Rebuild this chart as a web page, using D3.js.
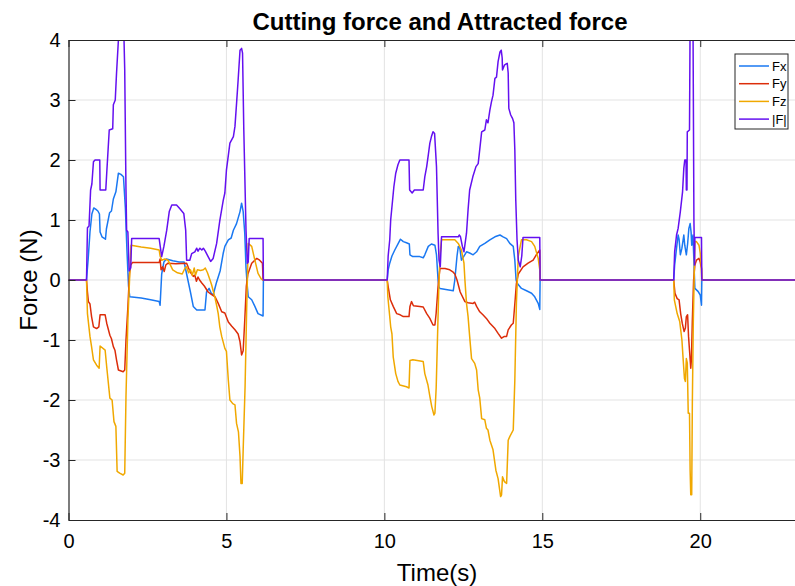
<!DOCTYPE html>
<html>
<head>
<meta charset="utf-8">
<script src="https://cdn.jsdelivr.net/npm/d3@7"></script>
<style>
  body { margin: 0; background: #fff; }
  svg { display: block; font-family: "Liberation Sans", Arial, sans-serif; }
</style>
</head>
<body>
<svg id="chart" width="795" height="586"></svg>
<script>
// series as [time (s), force (N)] pairs
var fxData = [
  [0,0],[0.57,0],
  [0.62,0.33],[0.68,0.8],[0.74,1.1],[0.8,1.2],[0.86,1.18],[0.93,1.15],[0.98,1.1],[1.0,0.8],[1.06,0.72],[1.17,0.68],[1.2,0.85],[1.3,1.12],[1.36,1.15],[1.42,1.35],[1.5,1.47],[1.58,1.78],[1.66,1.76],[1.74,1.72],[1.8,1.2],[1.85,0.5],[1.9,-0.1],[1.94,-0.28],[2.3,-0.3],[2.6,-0.33],[2.87,-0.36],[2.9,-0.42],[2.95,0.1],[3.02,0.3],[3.1,0.35],[3.3,0.32],[3.5,0.3],[3.66,0.3],[3.72,0.15],[3.8,-0.05],[3.86,-0.2],[3.95,-0.44],[4.06,-0.5],[4.32,-0.5],[4.37,-0.2],[4.45,-0.14],[4.52,-0.22],[4.58,-0.25],[4.68,-0.05],[4.8,0.15],[4.9,0.45],[4.95,0.56],[5.06,0.67],[5.15,0.7],[5.22,0.83],[5.32,0.94],[5.43,1.14],[5.48,1.28],[5.53,1.14],[5.58,0.78],[5.62,0.2],[5.66,-0.1],[5.69,-0.28],[5.8,-0.33],[5.9,-0.44],[6.0,-0.56],[6.16,-0.6],[6.17,0],
  [10.09,0],[10.12,0.17],[10.17,0.28],[10.24,0.4],[10.33,0.5],[10.44,0.61],[10.51,0.68],[10.6,0.64],[10.7,0.62],[10.79,0.6],[10.81,0.42],[10.9,0.39],[11.12,0.39],[11.23,0.37],[11.28,0.42],[11.39,0.56],[11.49,0.6],[11.6,0.58],[11.65,0.42],[11.7,0.0],[11.73,-0.12],[11.76,-0.14],[12.18,-0.18],[12.23,0.0],[12.3,0.4],[12.34,0.56],[12.39,0.53],[12.44,0.33],[12.5,0.38],[12.6,0.47],[12.7,0.45],[12.81,0.42],[12.92,0.47],[13.02,0.56],[13.18,0.61],[13.34,0.67],[13.5,0.72],[13.66,0.75],[13.76,0.72],[13.87,0.69],[13.97,0.61],[14.08,0.56],[14.13,0.33],[14.17,0.0],[14.2,-0.05],[14.34,-0.14],[14.5,-0.18],[14.66,-0.22],[14.76,-0.28],[14.87,-0.39],[14.92,-0.49],[14.93,0],
  [19.16,0],[19.19,0.25],[19.25,0.53],[19.3,0.75],[19.33,0.68],[19.37,0.42],[19.42,0.53],[19.48,0.75],[19.51,0.58],[19.56,0.42],[19.6,0.6],[19.64,0.86],[19.68,0.94],[19.71,0.8],[19.73,0.58],[19.77,0.75],[19.8,0.3],[19.82,0.0],[19.83,-0.14],[19.93,-0.19],[20.0,-0.25],[20.04,-0.42],[20.05,0],[23,0]
];

var fyData = [
  [0,0],[0.57,0],
  [0.6,-0.2],[0.63,-0.36],[0.68,-0.4],[0.73,-0.61],[0.79,-0.78],[0.89,-0.81],[0.96,-0.78],[1.0,-0.58],[1.16,-0.58],[1.21,-0.72],[1.31,-0.92],[1.36,-0.98],[1.42,-1.11],[1.47,-1.17],[1.52,-1.33],[1.58,-1.5],[1.73,-1.53],[1.78,-1.5],[1.82,-1.0],[1.88,-0.45],[1.93,0.1],[1.97,0.25],[2.02,0.29],[2.5,0.29],[2.87,0.29],[2.9,0.35],[2.93,0.17],[2.98,0.22],[3.03,0.14],[3.08,0.25],[3.15,0.28],[3.4,0.27],[3.74,0.28],[3.8,0.2],[3.86,0.13],[3.9,0.1],[3.95,0.06],[4.0,0.08],[4.05,-0.02],[4.1,0.05],[4.15,0.0],[4.22,-0.05],[4.3,-0.1],[4.42,-0.2],[4.5,-0.23],[4.64,-0.28],[4.74,-0.39],[4.85,-0.53],[4.95,-0.55],[5.06,-0.7],[5.17,-0.77],[5.27,-0.83],[5.37,-0.9],[5.43,-1.03],[5.48,-1.25],[5.53,-1.18],[5.58,-0.67],[5.63,-0.1],[5.68,0.1],[5.8,0.28],[5.96,0.36],[6.05,0.33],[6.14,0.28],[6.16,0],
  [10.09,0],[10.12,-0.11],[10.19,-0.33],[10.28,-0.44],[10.39,-0.56],[10.5,-0.58],[10.6,-0.61],[10.78,-0.61],[10.81,-0.44],[10.86,-0.36],[10.92,-0.43],[11.12,-0.44],[11.23,-0.45],[11.34,-0.56],[11.44,-0.64],[11.54,-0.75],[11.6,-0.75],[11.64,-0.55],[11.7,-0.11],[11.74,0.1],[11.76,0.19],[11.92,0.19],[12.07,0.17],[12.18,0.13],[12.23,0.1],[12.3,0.0],[12.4,-0.2],[12.55,-0.36],[12.65,-0.38],[12.81,-0.39],[12.86,-0.37],[12.92,-0.44],[13.02,-0.53],[13.12,-0.58],[13.23,-0.64],[13.34,-0.72],[13.5,-0.81],[13.6,-0.89],[13.71,-0.97],[13.8,-0.94],[13.87,-0.94],[13.92,-0.83],[14.02,-0.75],[14.08,-0.72],[14.13,-0.4],[14.18,-0.06],[14.24,0.1],[14.39,0.22],[14.55,0.28],[14.71,0.33],[14.81,0.42],[14.92,0.5],[14.93,0],
  [19.16,0],[19.2,-0.22],[19.27,-0.31],[19.33,-0.33],[19.38,-0.56],[19.43,-0.72],[19.49,-0.86],[19.53,-0.8],[19.56,-0.61],[19.6,-0.58],[19.63,-0.94],[19.66,-1.17],[19.7,-1.47],[19.72,-1.33],[19.75,-0.67],[19.79,0.0],[19.83,0.25],[19.88,0.33],[19.96,0.36],[20.0,0.3],[20.04,0.19],[20.05,0],[23,0]
];

var fzData = [
  [0,0],[0.57,0],
  [0.6,-0.56],[0.68,-0.94],[0.73,-1.11],[0.79,-1.33],[0.89,-1.42],[0.97,-1.47],[1.0,-1.1],[1.16,-1.17],[1.21,-1.45],[1.31,-1.97],[1.38,-2.0],[1.44,-2.36],[1.5,-2.44],[1.54,-3.19],[1.62,-3.22],[1.73,-3.25],[1.78,-3.22],[1.82,-1.94],[1.88,-0.67],[1.94,0.1],[1.98,0.58],[2.3,0.55],[2.6,0.53],[2.87,0.5],[2.9,0.4],[2.95,0.33],[3.05,0.35],[3.15,0.33],[3.3,0.17],[3.45,0.12],[3.6,0.1],[3.69,0.2],[3.74,0.22],[3.8,0.12],[3.86,0.17],[3.92,0.08],[3.98,0.2],[4.02,0.08],[4.08,0.17],[4.18,0.16],[4.27,0.17],[4.33,0.2],[4.4,0.12],[4.48,0.0],[4.53,-0.08],[4.64,-0.3],[4.7,-0.45],[4.74,-0.56],[4.79,-0.78],[4.85,-0.94],[4.95,-1.14],[5.0,-1.19],[5.06,-1.67],[5.11,-2.0],[5.2,-2.06],[5.27,-2.08],[5.32,-2.39],[5.38,-2.53],[5.43,-2.94],[5.46,-3.39],[5.5,-3.39],[5.53,-2.83],[5.59,-1.78],[5.64,-0.5],[5.69,0.61],[5.8,0.56],[5.9,0.33],[6.0,0.11],[6.1,0.02],[6.16,0],
  [10.09,0],[10.11,-0.28],[10.15,-0.5],[10.2,-0.78],[10.24,-0.9],[10.28,-1.28],[10.36,-1.56],[10.43,-1.69],[10.49,-1.75],[10.7,-1.78],[10.78,-1.8],[10.81,-1.34],[10.9,-1.33],[11.23,-1.36],[11.28,-1.56],[11.38,-1.75],[11.44,-1.94],[11.5,-2.11],[11.57,-2.25],[11.6,-2.22],[11.64,-1.8],[11.68,-1.0],[11.72,-0.2],[11.76,0.4],[11.81,0.67],[12.0,0.67],[12.23,0.67],[12.34,0.61],[12.44,0.5],[12.52,0.28],[12.55,0.0],[12.6,-0.39],[12.65,-0.61],[12.7,-0.94],[12.76,-1.31],[12.86,-1.39],[12.92,-1.5],[12.97,-1.83],[13.02,-1.97],[13.08,-2.31],[13.18,-2.33],[13.23,-2.47],[13.28,-2.5],[13.34,-2.67],[13.44,-2.83],[13.53,-3.17],[13.6,-3.31],[13.68,-3.61],[13.71,-3.58],[13.74,-3.28],[13.8,-3.36],[13.87,-3.39],[13.92,-2.67],[13.97,-2.61],[14.08,-2.5],[14.13,-1.67],[14.18,-0.39],[14.24,0.4],[14.34,0.67],[14.5,0.67],[14.66,0.64],[14.76,0.56],[14.87,0.36],[14.92,0.17],[14.93,0],
  [19.16,0],[19.18,-0.33],[19.27,-0.56],[19.35,-0.69],[19.42,-1.0],[19.46,-1.33],[19.5,-1.64],[19.53,-1.69],[19.56,-1.31],[19.59,-1.38],[19.62,-2.22],[19.66,-2.22],[19.68,-3.17],[19.7,-3.58],[19.73,-3.58],[19.75,-2.05],[19.78,-0.72],[19.81,0.1],[19.83,0.64],[19.88,0.64],[19.96,0.58],[20.0,0.45],[20.04,0.19],[20.05,0],[23,0]
];

var fmagData = [
  [0,0],[0.57,0],
  [0.6,0.87],[0.65,0.9],[0.7,1.5],[0.74,1.6],[0.79,1.97],[0.84,2.0],[0.99,2.0],[1.0,1.5],[1.18,1.5],[1.21,1.78],[1.29,2.5],[1.4,2.52],[1.42,2.92],[1.48,3.0],[1.52,3.44],[1.58,4.0],[1.62,4.4],[1.74,4.4],[1.78,3.5],[1.82,1.5],[1.84,0.83],[1.88,0.8],[1.92,0.15],[1.97,0.2],[2.0,0.69],[2.87,0.69],[2.95,0.39],[3.02,0.56],[3.11,0.83],[3.19,1.14],[3.27,1.25],[3.42,1.25],[3.52,1.19],[3.65,1.11],[3.71,0.83],[3.74,0.33],[3.84,0.33],[3.9,0.44],[4.0,0.47],[4.06,0.53],[4.1,0.48],[4.16,0.53],[4.22,0.5],[4.27,0.53],[4.33,0.48],[4.42,0.39],[4.5,0.31],[4.58,0.36],[4.69,0.61],[4.79,0.99],[4.9,1.33],[4.95,1.45],[5.0,1.83],[5.11,2.28],[5.22,2.39],[5.27,2.56],[5.32,2.94],[5.37,3.33],[5.43,3.83],[5.48,3.86],[5.51,3.78],[5.55,2.5],[5.62,0.83],[5.66,0.28],[5.69,0.3],[5.72,0.69],[6.16,0.69],[6.17,0],
  [10.09,0],[10.12,0.4],[10.17,0.67],[10.2,1.0],[10.26,1.33],[10.3,1.55],[10.36,1.78],[10.43,1.92],[10.49,2.0],[10.78,2.0],[10.8,1.5],[10.88,1.45],[10.95,1.5],[11.23,1.5],[11.28,1.72],[11.34,1.89],[11.39,2.08],[11.44,2.28],[11.49,2.39],[11.54,2.47],[11.59,2.44],[11.65,1.89],[11.7,0.78],[11.73,0.33],[11.77,0.22],[11.81,0.72],[12.34,0.72],[12.37,0.75],[12.41,0.72],[12.47,0.56],[12.52,0.47],[12.6,0.78],[12.65,1.17],[12.7,1.5],[12.8,1.72],[12.9,1.89],[12.97,1.94],[13.0,2.08],[13.08,2.47],[13.18,2.5],[13.23,2.67],[13.28,2.62],[13.34,2.83],[13.39,2.97],[13.44,3.08],[13.5,3.36],[13.55,3.38],[13.6,3.64],[13.66,3.8],[13.7,3.83],[13.73,3.7],[13.74,3.5],[13.8,3.58],[13.85,3.6],[13.89,3.61],[13.92,3.45],[13.94,2.86],[14.0,2.75],[14.06,2.69],[14.1,2.62],[14.13,2.17],[14.16,1.33],[14.2,0.67],[14.24,0.33],[14.3,0.22],[14.35,0.4],[14.39,0.71],[14.92,0.71],[14.93,0],
  [19.16,0],[19.19,0.47],[19.25,0.75],[19.3,0.86],[19.37,1.14],[19.44,1.47],[19.48,1.86],[19.51,2.0],[19.55,2.0],[19.56,1.5],[19.58,1.5],[19.59,2.47],[19.66,2.5],[19.68,4.4],[19.77,4.4],[19.8,1.0],[19.82,0.25],[19.83,0.71],[20.04,0.71],[20.05,0],[23,0]
];

var seriesNames = ['Fx', 'Fy', 'Fz', '|F|'];
var seriesColors = ['#1a78f2', '#dc2d0a', '#f0a800', '#6410f0'];
var xTicks = [0, 5, 10, 15, 20];
var yTicks = [-4, -3, -2, -1, 0, 1, 2, 3, 4];

var margin = { left: 68.5, right: 0, top: 40, bottom: 66 };
var width = 795 - margin.left - margin.right;
var height = 586 - margin.top - margin.bottom;

var svg = d3.select('#chart');
var g = svg.append('g')
    .attr('transform', 'translate(' + margin.left + ',' + margin.top + ')');

var xScale = d3.scaleLinear().domain([0, 23]).range([0, width]);
var yScale = d3.scaleLinear().domain([-4, 4]).range([height, 0]);

// grid
g.append('g').selectAll('line.gx')
    .data(xTicks.slice(1))
    .enter().append('line')
    .attr('x1', function(d) { return xScale(d); })
    .attr('x2', function(d) { return xScale(d); })
    .attr('y1', 0).attr('y2', height)
    .attr('stroke', '#e3e3e3').attr('stroke-width', 1);
g.append('g').selectAll('line.gy')
    .data(yTicks.slice(1, -1))
    .enter().append('line')
    .attr('x1', 0).attr('x2', width)
    .attr('y1', function(d) { return yScale(d); })
    .attr('y2', function(d) { return yScale(d); })
    .attr('stroke', '#e3e3e3').attr('stroke-width', 1);

// lines, clipped to the axes box
g.append('clipPath').attr('id', 'plot-clip')
  .append('rect').attr('width', width).attr('height', height);

var line = d3.line()
    .x(function(d) { return xScale(d[0]); })
    .y(function(d) { return yScale(d[1]); });

var allSeries = [fxData, fyData, fzData, fmagData];
g.append('g').attr('clip-path', 'url(#plot-clip)')
  .selectAll('path')
  .data(allSeries)
  .enter().append('path')
    .attr('d', line)
    .attr('fill', 'none')
    .attr('stroke', function(d, i) { return seriesColors[i]; })
    .attr('stroke-width', 1.5)
    .attr('stroke-linejoin', 'round');

// axes (ticks point inward like matlab), plain hyphen for negatives
var axisColor = '#262626';
var plainFmt = function(d) { return String(d); };
var xAxis = g.append('g')
    .attr('transform', 'translate(0,' + height + ')')
    .call(d3.axisBottom(xScale).tickValues(xTicks).tickFormat(plainFmt)
        .tickSize(-7).tickPadding(9).tickSizeOuter(0));
var xAxisTop = g.append('g')
    .call(d3.axisTop(xScale).tickValues(xTicks).tickSize(-7).tickSizeOuter(0).tickFormat(''));
var yAxis = g.append('g')
    .call(d3.axisLeft(yScale).tickValues(yTicks).tickFormat(plainFmt)
        .tickSize(-7).tickPadding(8).tickSizeOuter(0));

[xAxis, xAxisTop, yAxis].forEach(function(ax) {
    ax.select('.domain').attr('stroke', axisColor).attr('stroke-width', 1.2);
    ax.selectAll('.tick line').attr('stroke', axisColor);
    ax.selectAll('.tick text')
        .attr('fill', '#000')
        .style('font-size', '20px')
        .style('font-family', '"Liberation Sans", Arial, sans-serif');
});
xAxis.selectAll('.tick text').attr('dy', '0.95em');

// title and labels (the original axes run a bit past the right edge)
svg.append('text')
    .attr('x', 440).attr('y', 30)
    .attr('text-anchor', 'middle')
    .style('font-weight', 'bold')
    .style('font-size', '24px')
    .attr('fill', '#000')
    .text('Cutting force and Attracted force');

svg.append('text')
    .attr('x', 437).attr('y', 581)
    .attr('text-anchor', 'middle')
    .style('font-size', '24px')
    .attr('fill', '#000')
    .text('Time(s)');

svg.append('text')
    .attr('transform', 'translate(37,' + (margin.top + height / 2) + ') rotate(-90)')
    .attr('text-anchor', 'middle')
    .style('font-size', '24px')
    .attr('fill', '#000')
    .text('Force (N)');

// legend
var legend = svg.append('g').attr('transform', 'translate(735,54)');
legend.append('rect')
    .attr('width', 53).attr('height', 75)
    .attr('fill', '#fff')
    .attr('stroke', axisColor).attr('stroke-width', 1);
seriesNames.forEach(function(name, i) {
    var yy = 12 + i * 17.7;
    legend.append('line')
        .attr('x1', 4).attr('x2', 34)
        .attr('y1', yy).attr('y2', yy)
        .attr('stroke', seriesColors[i]).attr('stroke-width', 1.5);
    legend.append('text')
        .attr('x', 37).attr('y', yy + 4.5)
        .style('font-size', '13px')
        .attr('fill', '#000')
        .text(name);
});
</script>
</body>
</html>
